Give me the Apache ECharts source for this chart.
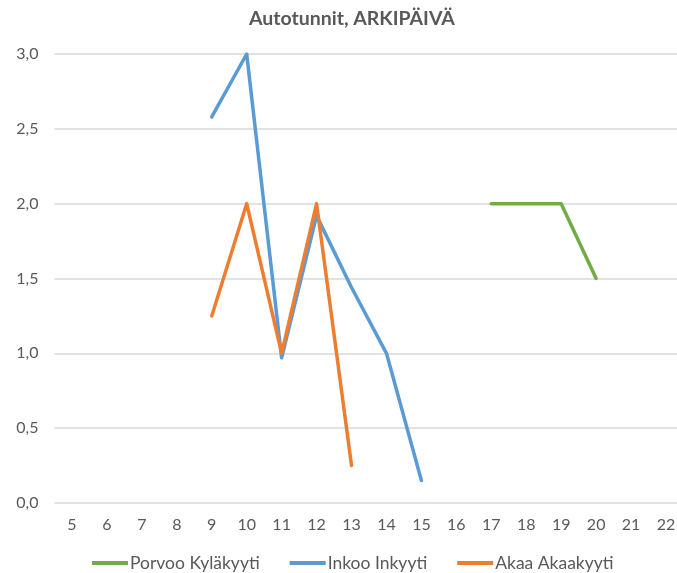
<!DOCTYPE html>
<html>
<head>
<meta charset="utf-8">
<script src="https://cdn.jsdelivr.net/npm/echarts@6/dist/echarts.min.js"></script>
<style>
html,body{margin:0;padding:0;background:#fff;}
#chart{width:677px;height:573px;}
</style>
</head>
<body>
<div id="chart"></div>
<script>
// Hours of the day shown on the category axis
const hours = ['5','6','7','8','9','10','11','12','13','14','15','16','17','18','19','20','21','22'];

// Car trips per weekday, by hour (null = no service that hour)
const porvoo = [null,null,null,null,null,null,null,null,null,null,null,null,2.0,2.0,2.0,1.5,null,null];
const inkoo  = [null,null,null,null,2.58,3.0,0.97,1.92,1.44,1.0,0.15,null,null,null,null,null,null,null];
const akaa   = [null,null,null,null,1.25,2.0,1.0,2.0,0.25,null,null,null,null,null,null,null,null,null];

const yTicks = [0, 0.5, 1, 1.5, 2, 2.5, 3];

const FONT = 'Lato, "Open Sans", sans-serif';
const TEXT = '#595959';

function lineSeries(name, data, color) {
  return {
    name, type: 'line', data,
    symbol: 'none', connectNulls: false,
    lineStyle: { color, width: 3.5, cap: 'round', join: 'round' },
    itemStyle: { color },
    emphasis: { disabled: true }
  };
}

const chart = echarts.init(document.getElementById('chart'), null, { renderer: 'canvas' });
chart.setOption({
  animation: false,
  backgroundColor: '#fff',
  textStyle: { fontFamily: FONT },
  title: {
    text: 'Autotunnit, ARKIPÄIVÄ',
    left: 244, top: 4,
    textStyle: { fontFamily: FONT, fontSize: 19.5, fontWeight: 'bold', color: TEXT }
  },
  grid: { left: 54.5, right: -6.5, top: 54, bottom: 70, containLabel: false, outerBoundsMode: 'none' },
  xAxis: {
    type: 'category', data: hours, boundaryGap: true,
    axisLine: { show: false }, axisTick: { show: false },
    axisLabel: { color: TEXT, fontSize: 16, fontFamily: FONT, margin: 14 },
    splitLine: { show: false }
  },
  yAxis: {
    type: 'value', min: 0, max: 3, interval: 0.5,
    axisLine: { show: false }, axisTick: { show: false },
    axisLabel: {
      color: TEXT, fontSize: 16, fontFamily: FONT, margin: 16,
      formatter: v => yTicks.includes(v) ? v.toFixed(1).replace('.', ',') : ''
    },
    splitLine: { lineStyle: { color: '#d9d9d9', width: 1.5 } }
  },
  legend: {
    top: 554, left: 92, padding: 0,
    icon: 'rect', itemWidth: 36, itemHeight: 4, itemGap: 30,
    textStyle: { color: TEXT, fontSize: 17.5, fontFamily: FONT, padding: [0, 0, 0, -3] },
    data: ['Porvoo Kyläkyyti', 'Inkoo Inkyyti', 'Akaa Akaakyyti']
  },
  series: [
    lineSeries('Porvoo Kyläkyyti', porvoo, '#70AD47'),
    lineSeries('Inkoo Inkyyti', inkoo, '#5B9BD5'),
    lineSeries('Akaa Akaakyyti', akaa, '#ED7D31')
  ]
});
</script>
</body>
</html>
